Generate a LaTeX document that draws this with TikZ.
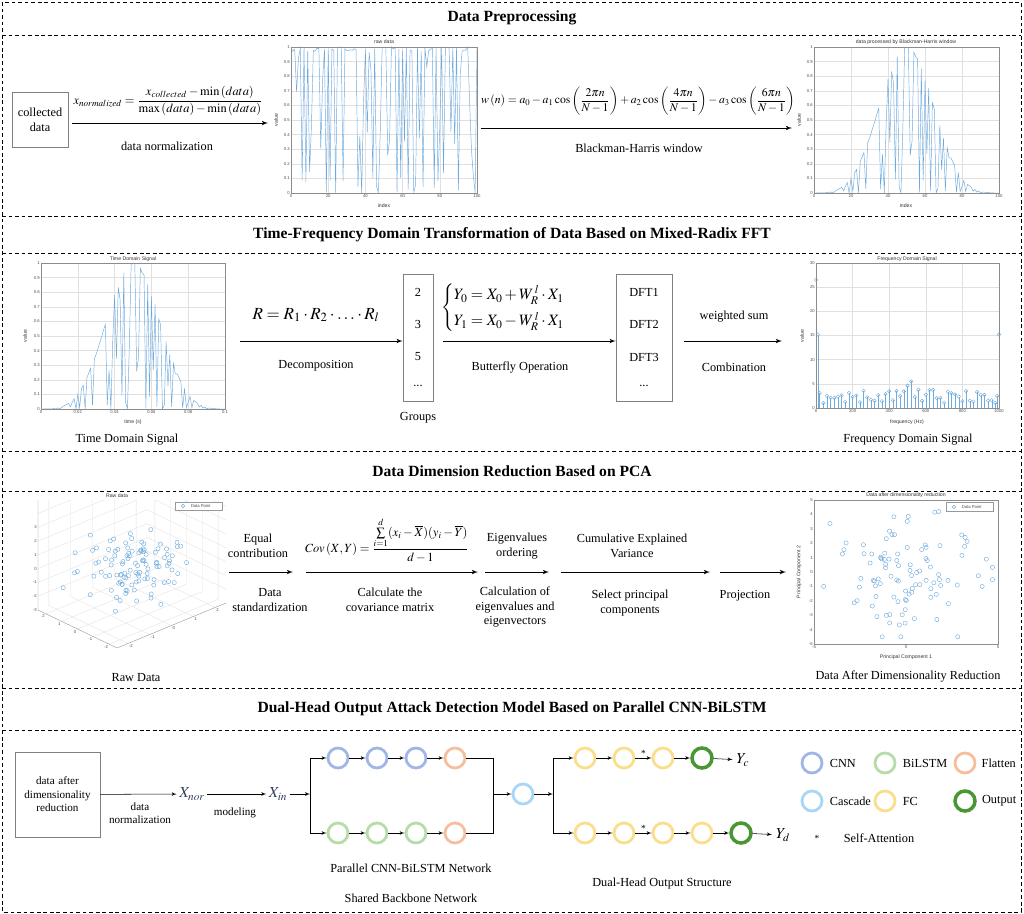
\documentclass[tikz,border=0pt]{standalone}
\usepackage{amsmath}
\usepackage{mathptmx}
\usepackage[no-math]{fontspec}
\setmainfont{Liberation Serif}
\setsansfont{Liberation Sans}
\usepackage{xcolor}
\usetikzlibrary{arrows,calc,positioning}

\definecolor{plotblue}{RGB}{110,170,220}
\definecolor{cnnblue}{RGB}{160,182,230}
\definecolor{lstmgreen}{RGB}{182,220,168}
\definecolor{flatorange}{RGB}{246,190,158}
\definecolor{cascblue}{RGB}{168,214,245}
\definecolor{fcyellow}{RGB}{250,222,140}
\definecolor{outgreen}{RGB}{72,150,52}
\definecolor{xnavy}{RGB}{45,60,95}

\begin{document}
\begin{tikzpicture}[
      x = 0.03cm, y = -0.03cm,
      > = latex',
      node distance = 1.17cm,
      declare function = {
        rr(\q) = frac(abs(sin(\q*78.233+12.7)*437.5453));
        rawv(\q) = (rr(\q)<0.5) ? (1-0.06*rr(\q)) : ((2*rr(\q)-1)^2);
        bhw(\q) = 0.35875-0.48829*cos(3.6*\q)+0.14128*cos(7.2*\q)-0.01168*cos(10.8*\q);
      },
      font = \fontsize{10.5}{12.5}\selectfont
    ]
    \tikzstyle{border line} = [dash pattern=on 3.2pt off 2.4pt, line width=0.7pt]
    \tikzstyle{my arrow} = [->, line width=0.8pt]
    \tikzstyle{net arrow} = [->, line width=0.45pt]
    \tikzstyle{net line} = [line width=0.45pt]
    \tikzstyle{title text} = [font=\fontsize{13.3}{15}\selectfont\bfseries]
    \tikzstyle{label text} = [align=center]
    \tikzstyle{tick label} = [font=\fontsize{3.6}{4.5}\selectfont\sffamily, text=black!70, inner sep=0.8pt]
    \tikzstyle{plot title} = [font=\fontsize{4.4}{5.2}\selectfont\sffamily, text=black!80, inner sep=1pt]
    \tikzstyle{grid line} = [black!12, line width=0.3pt]
    \tikzstyle{axis frame} = [black!45, line width=0.3pt]
    \tikzstyle{data mark} = [circle, draw=plotblue, line width=0.35pt, inner sep=0pt, minimum size=3.6pt]
    \tikzstyle{group box} = [draw=black!50, line width=0.5pt]
    \tikzstyle{main node} = [circle, draw, line width=2.4pt, minimum size=0.6cm, inner sep=0pt]
    \tikzstyle{out node} = [main node, draw=outgreen, line width=3pt]

    \useasboundingbox (0,0) rectangle (1024,914);

    % frame and titles
    \draw[border line] (2,2) rectangle (1021,912);
    \foreach \yy in {35,216,253,451,491,688,730}
      \draw[border line] (2,\yy) -- (1021,\yy);
    \node[title text] (t1) at (512,18) {Data Preprocessing};
    \node[title text] (t2) at (512,235) {Time-Frequency Domain Transformation of Data Based on Mixed-Radix FFT};
    \node[title text] (t3) at (512,471) {Data Dimension Reduction Based on PCA};
    \node[title text] (t4) at (512,709) {Dual-Head Output Attack Detection Model Based on Parallel CNN-BiLSTM};

    %%% data preprocessing
    \node[group box, minimum width=1.68cm, minimum height=1.65cm, align=center] (coll) at (40,119.5) {collected\\data};
    \coordinate (rawin) at (268,123);
    \draw[my arrow] ([xshift=3pt]coll.east |- rawin) -- (rawin);
    \node (eqn) at (168,101) {\fontsize{10.6}{13}\selectfont $x_{normalized}=\dfrac{x_{collected}-\min\left(data\right)}{\max\left(data\right)-\min\left(data\right)}$};
    \node (nlab) at (167,146) {data normalization};

    \begin{scope}[shift={(291,193)}, xscale=1.86, yscale=-146]
      \foreach \g in {20,40,60,80} \draw[grid line] (\g,0) -- (\g,1);
      \foreach \g in {0.1,0.2,0.3,0.4,0.5,0.6,0.7,0.8,0.9} \draw[grid line] (0,\g) -- (100,\g);
      \draw[plotblue, line width=0.4pt] plot[variable=\i, samples at={0,...,100}] (\i,{rawv(\i)});
      \draw[axis frame] (0,0) rectangle (100,1);
      \foreach \t in {0,20,40,60,80,100} \node[tick label, below] at (\t,0) {\t};
      \foreach \t in {0,0.1,0.2,0.3,0.4,0.5,0.6,0.7,0.8,0.9,1} \node[tick label, left] at (0,\t) {\t};
    \end{scope}
    \node[plot title] (p1t) at (384,42) {raw data};
    \node[plot title, rotate=90] (p1y) at (276,120) {value};
    \node[plot title] (p1x) at (384,206) {index};

    \coordinate (bhin) at (481,128);
    \coordinate (bhout) at (792,128);
    \draw[my arrow] (bhin) -- (bhout);
    \node (eqbh) at (638,101) {\fontsize{10}{12}\selectfont $w\left(n\right)=a_0-a_1\cos\left(\dfrac{2\pi n}{N-1}\right)+a_2\cos\left(\dfrac{4\pi n}{N-1}\right)-a_3\cos\left(\dfrac{6\pi n}{N-1}\right)$};
    \node (bhlab) at (639,148) {Blackman-Harris window};

    \begin{scope}[shift={(814,193)}, xscale=1.85, yscale=-146]
      \foreach \g in {20,40,60,80} \draw[grid line] (\g,0) -- (\g,1);
      \foreach \g in {0.1,0.2,0.3,0.4,0.5,0.6,0.7,0.8,0.9} \draw[grid line] (0,\g) -- (100,\g);
      \draw[plotblue, line width=0.4pt] plot[variable=\i, samples at={0,...,100}] (\i,{rawv(\i)*bhw(\i)});
      \draw[axis frame] (0,0) rectangle (100,1);
      \foreach \t in {0,20,40,60,80,100} \node[tick label, below] at (\t,0) {\t};
      \foreach \t in {0,0.1,0.2,0.3,0.4,0.5,0.6,0.7,0.8,0.9,1} \node[tick label, left] at (0,\t) {\t};
    \end{scope}
    \node[plot title] (p2t) at (906,42) {data processed by Blackman-Harris window};
    \node[plot title, rotate=90] (p2y) at (799,120) {value};
    \node[plot title] (p2x) at (906,206) {index};

    %%% mixed-radix FFT
    \begin{scope}[shift={(41,409)}, xscale=1.84, yscale=-146]
      \foreach \g in {20,40,60,80} \draw[grid line] (\g,0) -- (\g,1);
      \foreach \g in {0.1,0.2,0.3,0.4,0.5,0.6,0.7,0.8,0.9} \draw[grid line] (0,\g) -- (100,\g);
      \draw[plotblue, line width=0.4pt] plot[variable=\i, samples at={0,...,100}] (\i,{rawv(\i)*bhw(\i)});
      \draw[axis frame] (0,0) rectangle (100,1);
      \foreach \t/\l in {0/0,20/0.02,40/0.04,60/0.06,80/0.08,100/0.1} \node[tick label, below] at (\t,0) {\l};
      \foreach \t in {0,0.1,0.2,0.3,0.4,0.5,0.6,0.7,0.8,0.9,1} \node[tick label, left] at (0,\t) {\t};
    \end{scope}
    \node[plot title] (p3t) at (133,259) {Time Domain Signal};
    \node[plot title, rotate=90] (p3y) at (25,336) {value};
    \node[plot title] (p3x) at (133,422) {time (s)};
    \node (tds) at (127,440) {Time Domain Signal};

    \coordinate (tdout) at (240,341);
    \node[group box, minimum width=0.9cm, minimum height=3.81cm] (groups) at (418,337.5) {};
    \node (g1) at (418,292) {2};
    \node (g2) at (418,324) {3};
    \node (g3) at (418,357) {5};
    \node (g4) at (418,386) {...};
    \node (glab) at (418,418) {Groups};
    \draw[my arrow] (tdout) -- (tdout -| groups.west);
    \node (eqr) at (316,315) {\fontsize{14.5}{17}\selectfont $R=R_1\cdot R_2\cdot\ldots\cdot R_l$};
    \node (declab) at (316,366) {Decomposition};

    \node[group box, minimum width=1.68cm, minimum height=3.81cm] (dfts) at (644,337.5) {};
    \node (d1) at (644,292) {DFT1};
    \node (d2) at (644,324) {DFT2};
    \node (d3) at (644,357) {DFT3};
    \node (d4) at (644,386) {...};
    \draw[my arrow] ([xshift=8pt]groups.east |- tdout) -- (tdout -| dfts.west);
    \node (eqbf) at (511,308) {\fontsize{13.5}{17}\selectfont $\begin{cases}Y_0=X_0+W_R^{\,l}\cdot X_1\\[2pt] Y_1=X_0-W_R^{\,l}\cdot X_1\end{cases}$};
    \node (bflab) at (520,367) {Butterfly Operation};

    \coordinate (fdin) at (782,341);
    \draw[my arrow] ([xshift=10pt]dfts.east |- fdin) -- (fdin);
    \node (wslab) at (734,317) {weighted sum};
    \node (comblab) at (734,367) {Combination};

    \begin{scope}[shift={(816,408)}, xscale=0.183, yscale=-4.8333]
      \foreach \g in {200,400,600,800} \draw[grid line] (\g,0) -- (\g,30);
      \foreach \g in {5,10,15,20,25} \draw[grid line] (0,\g) -- (1000,\g);
      \foreach \k in {1,...,49} {
        \pgfmathsetmacro\hv{1.0+2.6*rr(\k+60)+3.3/(1+((\k-25)/1.6)^2)}
        \draw[plotblue, line width=0.3pt] (\k*20,0) -- (\k*20,\hv) node[data mark, minimum size=3pt] {};
      }
      \foreach \f/\hv in {0/26.5,10/15.2,990/2.5,1000/15.2}
        \draw[plotblue, line width=0.3pt] (\f,0) -- (\f,\hv) node[data mark, minimum size=3pt] {};
      \draw[axis frame] (0,0) rectangle (1000,30);
      \foreach \t in {0,200,400,600,800,1000} \node[tick label, below] at (\t,0) {\t};
      \foreach \t in {0,5,10,15,20,25,30} \node[tick label, left] at (0,\t) {\t};
    \end{scope}
    \node[plot title] (p4t) at (907,259) {Frequency Domain Signal};
    \node[plot title, rotate=90] (p4y) at (802,336) {value};
    \node[plot title] (p4x) at (907,422) {frequency (Hz)};
    \node (fds) at (908,440) {Frequency Domain Signal};

    %%% PCA
    \begin{scope}
      \clip (15,500) rectangle (245,670);
      \begin{scope}[shift={(38,610)}, x={(2.37cm,-1.14cm)}, y={(3.27cm,1.35cm)}, z={(0cm,0.414cm)}]
        \foreach \g in {0.1,0.3,0.5,0.7,0.9} {
          \draw[grid line] (\g,0,0) -- (\g,1,0) -- (\g,1,8);
          \draw[grid line] (1,\g,0) -- (0,\g,0) -- (0,\g,8);
        }
        \foreach \g in {1,...,8} \draw[grid line] (0,0,\g) -- (0,1,\g) -- (1,1,\g);
        \draw[axis frame] (0,0,8) -- (0,0,0) -- (1,0,0) -- (1,1,0);
        \foreach \zz in {-3,...,3} \node[tick label, left] at (0,0,{\zz+3}) {\zz};
        \foreach \vv in {2,1,0,-1,-2} \node[tick label, below left] at ({(2.5-\vv)/5},0,0) {\vv};
        \foreach \vv in {-2,-1,0,1,2} \node[tick label, below right] at (1,{(\vv+2.5)/5},0) {\vv};
        \pgfmathsetseed{7}
        \foreach \i in {1,...,110} {
          \pgfmathsetmacro\su{max(-2.4,min(2.4,(rnd+rnd+rnd-1.5)*2))}
          \pgfmathsetmacro\sv{max(-2.4,min(2.4,(rnd+rnd+rnd-1.5)*2))}
          \pgfmathsetmacro\sw{max(-2.9,min(3.2,(rnd+rnd+rnd-1.5)*2))}
          \node[data mark] at ({(2.5-\su)/5},{(\sv+2.5)/5},{\sw+3}) {};
        }
      \end{scope}
    \end{scope}
    \node[plot title] (p5t) at (117,496) {Raw data};
    \node[draw=black!40, fill=white, line width=0.3pt, minimum width=1.4cm, minimum height=0.24cm] (lg5) at (199,506) {};
    \node[data mark, minimum size=3pt] (lg5m) at (183,506) {};
    \node[tick label, right=4pt of lg5m] {Data Point};
    \node (rawd) at (136,678) {Raw Data};

    \coordinate (a1s) at (229,572);
    \coordinate (a1e) at (293,572);
    \draw[my arrow] (a1s) -- (a1e);
    \node[label text] (l1a) at (258,546) {Equal\\contribution};
    \node[label text] (l1b) at (270,600) {Data\\standardization};

    \coordinate (a2s) at (306,572);
    \coordinate (a2e) at (478,572);
    \draw[my arrow] (a2s) -- (a2e);
    \node (eqcov) at (387,540) {\fontsize{10.6}{13}\selectfont $Cov\left(X,Y\right)=\dfrac{\sum\limits_{i=1}^{d}(x_i-\overline{X})(y_i-\overline{Y})}{d-1}$};
    \node[label text] (l2b) at (390,600) {Calculate the\\covariance matrix};

    \coordinate (a3s) at (485,572);
    \coordinate (a3e) at (549,572);
    \draw[my arrow] (a3s) -- (a3e);
    \node[label text] (l3a) at (517,546) {Eigenvalues\\ordering};
    \node[label text] (l3b) at (515,607) {Calculation of\\eigenvalues and\\eigenvectors};

    \coordinate (a4s) at (561,572);
    \coordinate (a4e) at (710,572);
    \draw[my arrow] (a4s) -- (a4e);
    \node[label text] (l4a) at (632,546) {Cumulative Explained\\Variance};
    \node[label text] (l4b) at (630,603) {Select principal\\components};

    \coordinate (a5s) at (720,572);
    \coordinate (a5e) at (786,572);
    \draw[my arrow] (a5s) -- (a5e);
    \node (l5b) at (745,596) {Projection};

    \begin{scope}[shift={(906,572)}, xscale=18.4, yscale=-14.4]
      \draw[axis frame] (-5,-5) rectangle (5,5);
      \foreach \t in {-5,0,5} \node[tick label, below] at (\t,-5) {\t};
      \foreach \t in {-5,...,5} \node[tick label, left] at (-5,\t) {\t};
      \pgfmathsetseed{21}
      \foreach \i in {1,...,100} {
        \pgfmathsetmacro\su{max(-4.6,min(4.7,(rnd+rnd+rnd-1.5)*4))}
        \pgfmathsetmacro\sv{max(-4.5,min(4.2,(rnd+rnd+rnd-1.5)*4))}
        \node[data mark] at (\su,\sv) {};
      }
    \end{scope}
    \node[plot title] (p6t) at (906,495) {Data after dimensionality reduction};
    \node[draw=black!40, fill=white, line width=0.3pt, minimum width=1.4cm, minimum height=0.27cm] (lg6) at (970,507) {};
    \node[data mark, minimum size=3pt] (lg6m) at (954,507) {};
    \node[tick label, right=4pt of lg6m] {Data Point};
    \node[plot title] (p6x) at (906,657) {Principal Component 1};
    \node[plot title, rotate=90] (p6y) at (799,572) {Principal Component 2};
    \node (redd) at (908,676) {Data After Dimensionality Reduction};

    %%% parallel CNN-BiLSTM
    \node[group box, minimum width=2.55cm, minimum height=2.55cm, text width=2.3cm, align=center,
          font=\fontsize{9.5}{11.5}\selectfont] (dadr) at (57.5,794.5) {data after dimensionality reduction};
    \node[text=xnavy, inner sep=2pt] (xnor) at (192,794) {\fontsize{13}{15}\selectfont $X_{nor}$};
    \node[text=xnavy, inner sep=2pt] (xin) at (278,794) {\fontsize{13}{15}\selectfont $X_{in}$};
    \draw[net arrow] (dadr) -- (xnor);
    \draw[net arrow] (xnor) -- (xin);
    \node[label text, font=\fontsize{9.5}{11.5}\selectfont] (dnl) at (140,813) {data\\normalization};
    \node[font=\fontsize{9.5}{11.5}\selectfont] (mdl) at (235,813) {modeling};
    \coordinate (j1) at (310,794);
    \draw[net arrow] (xin) -- (j1);

    \node[main node, draw=cnnblue] (c1) at (338,758) {};
    \node[main node, draw=cnnblue] (c2) [right of=c1] {};
    \node[main node, draw=cnnblue] (c3) [right of=c2] {};
    \node[main node, draw=flatorange] (f1) [right of=c3] {};
    \node[main node, draw=lstmgreen] (b1) at (338,833) {};
    \node[main node, draw=lstmgreen] (b2) [right of=b1] {};
    \node[main node, draw=lstmgreen] (b3) [right of=b2] {};
    \node[main node, draw=flatorange] (f2) [right of=b3] {};
    \draw[net arrow] (j1) |- (c1);
    \draw[net arrow] (j1) |- (b1);
    \draw[net arrow] (c1) -- (c2);
    \draw[net arrow] (c2) -- (c3);
    \draw[net arrow] (c3) -- (f1);
    \draw[net arrow] (b1) -- (b2);
    \draw[net arrow] (b2) -- (b3);
    \draw[net arrow] (b3) -- (f2);

    \coordinate (j2) at (493,794);
    \node[main node, draw=cascblue] (casc) at (523,794) {};
    \coordinate (j3) at (553,794);
    \draw[net line] (f1) -| (j2);
    \draw[net line] (f2) -| (j2);
    \draw[net arrow] (j2) -- (casc);
    \draw[net arrow] (casc) -- (j3);

    \node[main node, draw=fcyellow] (hc1) at (585,758) {};
    \node[main node, draw=fcyellow] (hc2) [right of=hc1] {};
    \node[main node, draw=fcyellow] (hc3) [right of=hc2] {};
    \node[out node] (oc) [right of=hc3] {};
    \node (yc) at (743,760) {\fontsize{13}{15}\selectfont $Y_c$};
    \node[main node, draw=fcyellow] (hd1) at (585,833) {};
    \node[main node, draw=fcyellow] (hd2) [right of=hd1] {};
    \node[main node, draw=fcyellow] (hd3) [right of=hd2] {};
    \node[main node, draw=fcyellow] (hd4) [right of=hd3] {};
    \node[out node] (od) [right of=hd4] {};
    \node (yd) at (783,835) {\fontsize{13}{15}\selectfont $Y_d$};
    \draw[net arrow] (j3) |- (hc1);
    \draw[net arrow] (j3) |- (hd1);
    \draw[net arrow] (hc1) -- (hc2);
    \draw[net arrow] (hc2) -- node[above, inner sep=1pt, font=\fontsize{8}{9}\selectfont] {*} (hc3);
    \draw[net arrow] (hc3) -- (oc);
    \draw[net arrow] (oc) -- (yc);
    \draw[net arrow] (hd1) -- (hd2);
    \draw[net arrow] (hd2) -- node[above, inner sep=1pt, font=\fontsize{8}{9}\selectfont] {*} (hd3);
    \draw[net arrow] (hd3) -- (hd4);
    \draw[net arrow] (hd4) -- (od);
    \draw[net arrow] (od) -- (yd);

    \node (pcb) at (411,868) {Parallel CNN-BiLSTM Network};
    \node (sbn) at (411,898) {Shared Backbone Network};
    \node (dho) at (662,884) {Dual-Head Output Structure};

    % legend
    \node[main node, draw=cnnblue] (lcnn) at (812,763) {};
    \node[right=2pt of lcnn] {CNN};
    \node[main node, draw=lstmgreen] (llstm) at (885,763) {};
    \node[right=2pt of llstm] {BiLSTM};
    \node[main node, draw=flatorange] (lflat) at (965,763) {};
    \node[right=1pt of lflat] {Flatten};
    \node[main node, draw=cascblue] (lcasc) at (812,801) {};
    \node[right=2pt of lcasc] {Cascade};
    \node[main node, draw=fcyellow] (lfc) at (885,801) {};
    \node[right=2pt of lfc] {FC};
    \node[out node] (lout) at (965,801) {};
    \node[right=1pt of lout] {Output};
    \node[font=\fontsize{8}{9}\selectfont] (lsa) at (817,838) {*};
    \node (lsat) at (879,838) {Self-Attention};
  \end{tikzpicture}
\end{document}
